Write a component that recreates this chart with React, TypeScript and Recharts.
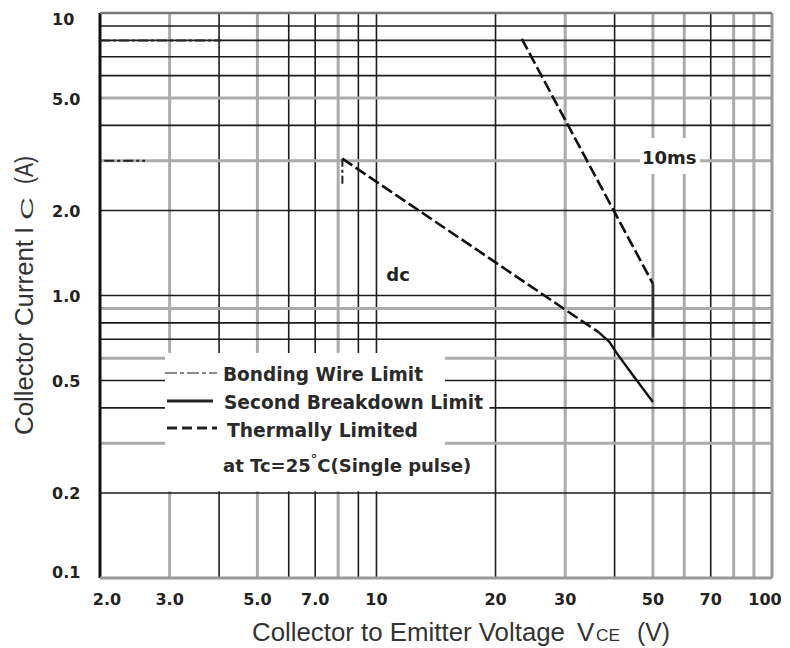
import React from 'react';
import {
  ComposedChart,
  Line,
  XAxis,
  YAxis,
  ReferenceLine,
  ReferenceArea,
  ReferenceDot,
} from 'recharts';

// ---------- axes ----------
const xTicks = [2, 3, 5, 7, 10, 20, 30, 50, 70, 100];
const xTickLabels = ['2.0', '3.0', '5.0', '7.0', '10', '20', '30', '50', '70', '100'];
const yTicks = [0.1, 0.2, 0.5, 1, 2, 5, 10];
const yTickLabels = ['0.1', '0.2', '0.5', '1.0', '2.0', '5.0', '10'];

// ---------- grid ----------
const xGridV = [3, 4, 5, 6, 7, 8, 9, 10, 20, 30, 40, 50, 60, 70, 80, 90];
const xGridTone = ['g', 'k', 'g', 'k', 'k', 'g', 'k', 'k', 'k', 'g', 'k', 'g', 'g', 'k', 'g', 'g'];
const yGridI = [0.2, 0.3, 0.4, 0.5, 0.6, 0.7, 0.8, 0.9, 1, 2, 3, 4, 5, 6, 7, 8, 9];
const yGridTone = ['k', 'g', 'k', 'k', 'g', 'k', 'k', 'g', 'k', 'k', 'g', 'k', 'g', 'k', 'k', 'k', 'k'];

// ---------- curves (VCE in V, IC in A) ----------
const wire8V = [2.0, 4.05];
const wire8I = [8.0, 8.0];
const wire3V = [2.05, 2.6];
const wire3I = [3.0, 3.0];
const wireDropV = [8.2, 8.2];
const wireDropI = [3.05, 2.45];
const thermal10msV = [23.3, 50];
const thermal10msI = [8.1, 1.1];
const pulseEdgeV = [50, 50];
const pulseEdgeI = [1.1, 0.71];
const thermalDcV = [8.2, 36.5];
const thermalDcI = [3.05, 0.74];
const breakdownV = [36.5, 38.8, 40.5, 44.6, 50];
const breakdownI = [0.74, 0.685, 0.625, 0.52, 0.42];

// ---------- annotations ----------
const tenMsAt = { v: 55, i: 3.07 };
const dcAt = { v: 11.34, i: 1.19 };

const toPoints = (vs: number[], is: number[]) => vs.map((v, k) => ({ v, i: is[k] }));

const W = 782;
const H = 640;

const tone = (t: string) =>
  t === 'k' ? { stroke: '#1c1c1c', strokeWidth: 1.6 } : { stroke: '#ababab', strokeWidth: 3 };

const tickFont = {
  fontFamily: 'DejaVu Sans',
  fontWeight: 'bold' as const,
  fontSize: 16,
  fill: '#222',
};

const XTick = (props: any) => {
  const { x, y, payload } = props;
  const k = xTicks.indexOf(payload.value);
  const dx = k === 0 ? 7 : k === xTicks.length - 1 ? -7 : 0;
  return (
    <text x={x + dx} y={y + 21} textAnchor="middle" dominantBaseline="central" {...tickFont}>
      {xTickLabels[k]}
    </text>
  );
};

const YTick = (props: any) => {
  const { y, payload } = props;
  const k = yTicks.indexOf(payload.value);
  const dy = k === 0 ? -6 : k === yTicks.length - 1 ? 6 : 1;
  return (
    <text x={44} y={y + dy} textAnchor="start" dominantBaseline="central" {...tickFont}>
      {yTickLabels[k]}
    </text>
  );
};

const series = [
  { key: 'w8', data: toPoints(wire8V, wire8I), stroke: '#222', width: 2, dash: '10 3 3 3' },
  { key: 'w3', data: toPoints(wire3V, wire3I), stroke: '#222', width: 2, dash: '10 3 3 3' },
  { key: 'wd', data: toPoints(wireDropV, wireDropI), stroke: '#222', width: 2, dash: '8 3 3 3' },
  { key: 't10', data: toPoints(thermal10msV, thermal10msI), stroke: '#111', width: 2.6, dash: '12 4' },
  { key: 'pe', data: toPoints(pulseEdgeV, pulseEdgeI), stroke: '#333', width: 2.6, dash: undefined },
  { key: 'tdc', data: toPoints(thermalDcV, thermalDcI), stroke: '#111', width: 2.6, dash: '12 4' },
  { key: 'sb', data: toPoints(breakdownV, breakdownI), stroke: '#111', width: 2.4, dash: undefined },
];

const legendFont = {
  fontFamily: 'DejaVu Sans',
  fontWeight: 'bold' as const,
  fontSize: 19,
  fill: '#2a2a2a',
};

const titleFont = {
  fontFamily: 'Liberation Sans, Arial, sans-serif',
  fontSize: 26,
  fill: '#333',
};

export default function App() {
  return (
    <div style={{ position: 'relative', width: W, height: H, background: '#fff' }}>
      <ComposedChart
        width={W}
        height={H}
        margin={{ top: 5, right: 18, bottom: 0, left: 0 }}
      >
        <XAxis
          dataKey="v"
          type="number"
          scale="log"
          domain={[2, 100]}
          allowDataOverflow
          ticks={xTicks}
          tick={<XTick />}
          tickLine={false}
          axisLine={false}
          tickSize={0}
          tickMargin={0}
          height={70}
          interval={0}
        />
        <YAxis
          dataKey="i"
          type="number"
          scale="log"
          domain={[0.1, 10]}
          allowDataOverflow
          ticks={yTicks}
          tick={<YTick />}
          tickLine={false}
          axisLine={false}
          tickSize={0}
          tickMargin={0}
          width={92}
          interval={0}
        />

        {xGridV.map((v, k) => (
          <ReferenceLine key={'gx' + v} x={v} zIndex={20} {...tone(xGridTone[k])} />
        ))}
        {yGridI.map((i, k) => (
          <ReferenceLine key={'gy' + i} y={i} zIndex={20} {...tone(yGridTone[k])} />
        ))}

        <ReferenceArea zIndex={60} x1={2.92} x2={14.9} y1={0.203} y2={0.626} fill="#fff" fillOpacity={1} stroke="none" />
        <ReferenceArea zIndex={60} x1={14.9} x2={19.3} y1={0.385} y2={0.45} fill="#fff" fillOpacity={1} stroke="none" />
        <ReferenceArea zIndex={60} x1={46.4} x2={65.8} y1={2.69} y2={3.61} fill="#fff" fillOpacity={1} stroke="none" />

        <ReferenceLine zIndex={80} x={2} stroke="#111" strokeWidth={3} />
        <ReferenceLine zIndex={80} x={100} stroke="#9a9a9a" strokeWidth={3} />
        <ReferenceLine zIndex={80} y={10} stroke="#777" strokeWidth={2.5} />
        <ReferenceLine zIndex={80} y={0.1} stroke="#999" strokeWidth={3} />

        {series.map((s) => (
          <Line
            key={s.key}
            data={s.data}
            dataKey="i"
            type="linear"
            stroke={s.stroke}
            strokeWidth={s.width}
            strokeDasharray={s.dash}
            dot={false}
            activeDot={false}
            isAnimationActive={false}
          />
        ))}

        <ReferenceDot
          x={tenMsAt.v}
          y={tenMsAt.i}
          r={0}
          fill="none"
          stroke="none"
          label={{
            value: '10ms',
            position: 'center',
            fill: '#222',
            fontSize: 18,
            fontWeight: 'bold',
            fontFamily: 'DejaVu Sans',
          }}
        />
        <ReferenceDot
          x={dcAt.v}
          y={dcAt.i}
          r={0}
          fill="none"
          stroke="none"
          label={{
            value: 'dc',
            position: 'center',
            fill: '#222',
            fontSize: 18,
            fontWeight: 'bold',
            fontFamily: 'DejaVu Sans',
          }}
        />
      </ComposedChart>

      <svg
        width={W}
        height={H}
        style={{ position: 'absolute', left: 0, top: 0, pointerEvents: 'none' }}
      >
        {/* legend samples */}
        <line x1={157} y1={365} x2={209} y2={365} stroke="#8a8a8a" strokeWidth={2} strokeDasharray="12 3 4 3" />
        <line x1={159} y1={393} x2={205} y2={393} stroke="#222" strokeWidth={3} />
        <line x1={159} y1={420} x2={209} y2={420} stroke="#222" strokeWidth={3} strokeDasharray="10 5" />
        {/* legend texts */}
        <text x={215} y={373} textLength={200} lengthAdjust="spacingAndGlyphs" {...legendFont}>
          Bonding Wire Limit
        </text>
        <text x={216} y={401} textLength={259} lengthAdjust="spacingAndGlyphs" {...legendFont}>
          Second Breakdown Limit
        </text>
        <text x={219} y={429} textLength={191} lengthAdjust="spacingAndGlyphs" {...legendFont}>
          Thermally Limited
        </text>
        <text x={215} y={464} {...legendFont} fontSize={18}>
          at Tc=25
          <tspan fontSize={13} dy={-9}>°</tspan>
          <tspan dy={9}>C</tspan>
          <tspan>(Single pulse)</tspan>
        </text>

        {/* y axis title */}
        <g transform="rotate(-90)">
          <text x={-427} y={25} textLength={195} lengthAdjust="spacingAndGlyphs" {...titleFont}>
            Collector Current
          </text>
          <text x={-226} y={25} {...titleFont}>
            I
          </text>
          <text x={-212} y={25} textLength={23} lengthAdjust="spacingAndGlyphs" {...titleFont} fontSize={16}>
            C
          </text>
          <text x={-176} y={25} textLength={28} lengthAdjust="spacingAndGlyphs" {...titleFont}>
            (A)
          </text>
        </g>

        {/* x axis title */}
        <text x={244} y={633} textLength={313} lengthAdjust="spacingAndGlyphs" {...titleFont}>
          Collector to Emitter Voltage
        </text>
        <text x={569} y={633} {...titleFont}>
          V
        </text>
        <text x={588} y={633} textLength={24} lengthAdjust="spacingAndGlyphs" {...titleFont} fontSize={16}>
          CE
        </text>
        <text x={629} y={633} textLength={33} lengthAdjust="spacingAndGlyphs" {...titleFont}>
          (V)
        </text>
      </svg>
    </div>
  );
}
